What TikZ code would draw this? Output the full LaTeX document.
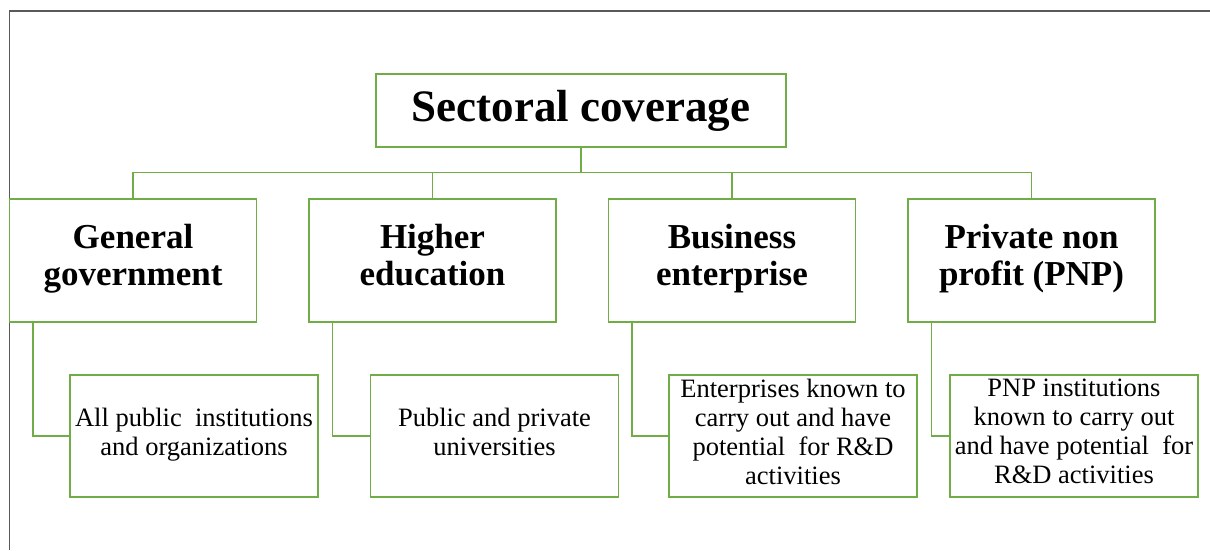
\documentclass[tikz,border=0pt]{standalone}
\usepackage{fontspec}
\setmainfont{Liberation Serif}
\usetikzlibrary{positioning}

\definecolor{leafgreen}{RGB}{112,173,71}
\definecolor{framegray}{RGB}{89,89,89}

\begin{document}
\begin{tikzpicture}[
    x=1pt, y=-1pt,
    node distance=51pt,
    top/.style={rectangle, draw=leafgreen, line width=1.5pt, minimum width=410pt, minimum height=73pt, align=center, font=\fontsize{45}{50}\selectfont\bfseries},
    sector/.style={rectangle, draw=leafgreen, line width=1.5pt, minimum width=247pt, minimum height=123pt, align=center, inner sep=2pt, font=\fontsize{35}{37.5}\selectfont\bfseries, execute at begin node=\rule{0pt}{31pt}, execute at end node=\strut},
    item/.style={rectangle, draw=leafgreen, line width=1.5pt, minimum width=248pt, minimum height=122pt, align=center, inner sep=2pt, font=\fontsize{26.5}{29}\selectfont, execute at begin node=\rule{0pt}{26pt}, execute at end node=\strut},
    link/.style={draw=leafgreen, line width=1.5pt}
]
    \useasboundingbox (0,0) rectangle (1210,550);

    % page frame
    \draw[framegray, line width=1.2pt] (1210,11) -- (9.5,11) -- (9.5,550);

    % root
    \node[top] (root) at (581,110.5) {Sectoral coverage};

    % sectors
    \node[sector] (gen) at (133,260.5) {General\\government};
    \node[sector, right=of gen] (high) {Higher\\education};
    \node[sector, right=of high] (bus) {Business\\enterprise};
    \node[sector, right=of bus] (pnp) {Private non\\profit (PNP)};

    % what each sector covers
    \node[item] (genitem) at (194,436) {All public\ \ institutions\\and organizations};
    \node[item] (highitem) at (494.5,436) {Public and private\\universities};
    \node[item] (busitem) at (793,436) {Enterprises known to\\carry out and have\\potential\ \ for R\&D\\activities};
    \node[item] (pnpitem) at (1074,436) {PNP institutions\\known to carry out\\and have potential\ \ for\\R\&D activities};

    % tree lines
    \coordinate (bar) at (581,172.5);
    \draw[link] (root.south) -- (bar);
    \draw[link] (gen.north) |- (bar) -| (pnp.north);
    \foreach \s in {high,bus}
        \draw[link] (\s.north) -- (\s.north |- bar);

    % elbows down to the items
    \foreach \s in {gen,high,bus,pnp}
        \draw[link] ([xshift=24pt]\s.south west) |- (\s item.west);
\end{tikzpicture}
\end{document}
